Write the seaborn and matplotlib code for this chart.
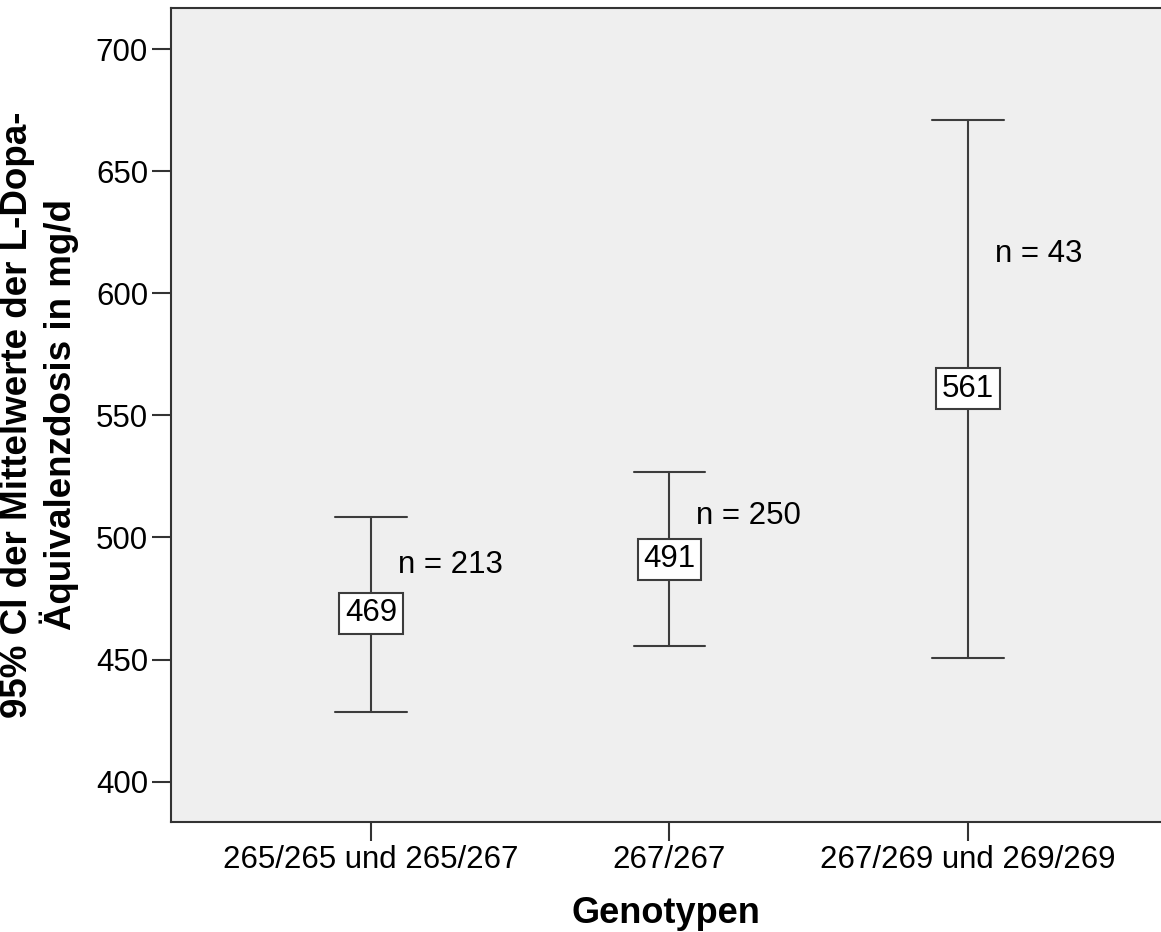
import numpy as np
import pandas as pd
import seaborn as sns
import matplotlib
matplotlib.use("Agg")
import matplotlib.pyplot as plt

# ---- data ----
genotypes = ["265/265 und 265/267", "267/267", "267/269 und 269/269"]
means = [469, 491, 561]
ci_lower = [428.7, 455.7, 450.5]
ci_upper = [508.2, 526.9, 671.0]
n_counts = [213, 250, 43]

rows = []
for g, lo, m, hi in zip(genotypes, ci_lower, means, ci_upper):
    for v in (lo, m, hi):
        rows.append({"Genotypen": g, "Dosis": v})
df = pd.DataFrame(rows)

sns.set_theme(style="white")
plt.rcParams["font.family"] = ["Liberation Sans", "DejaVu Sans"]

fig = plt.figure(figsize=(11.61, 9.32), dpi=100)
ax = fig.add_axes([171 / 1161, 1 - 822 / 932, 1 - 171 / 1161, (822 - 8) / 932])
ax.set_facecolor("#efefef")

ecol = "#3c3c3c"
sns.pointplot(
    data=df, x="Genotypen", y="Dosis", order=genotypes,
    estimator=np.median,
    errorbar=lambda v: (np.min(v), np.max(v)),
    linestyle="none", marker="", capsize=0.24,
    color=ecol, err_kws={"linewidth": 1.5, "color": ecol},
    ax=ax,
)

for i, (m, hi, n) in enumerate(zip(means, ci_upper, n_counts)):
    ax.text(i, m, f"{m}", ha="center", va="center", fontsize=22.5, color="black",
            bbox=dict(boxstyle="square,pad=0.18", facecolor="white",
                      edgecolor=ecol, linewidth=1.5), zorder=5)
    ax.text(i + 0.09, (m + hi) / 2, f"n = {n}", ha="left", va="center",
            fontsize=22.5, color="black")

ax.set_xlim(-0.67, 2.647)
ax.set_ylim(383.5, 716.8)
ax.set_yticks([400, 450, 500, 550, 600, 650, 700])

for name, s in ax.spines.items():
    s.set_visible(name != "right")
    s.set_color("#333333")
    s.set_linewidth(1.5)

ax.tick_params(axis="both", which="both", direction="out", length=13.5,
               width=1.5, color="#333333", labelsize=22.5, labelcolor="black",
               pad=3, left=True, bottom=True)

ax.set_xlabel("Genotypen", fontsize=26, fontweight="bold", labelpad=15,
              color="black")
ax.set_ylabel("95% CI der Mittelwerte der L-Dopa-\nÄquivalenzdosis in mg/d",
              fontsize=26.5, fontweight="bold", labelpad=12, linespacing=1.15,
              color="black")

fig.savefig("out.png", dpi=100)
